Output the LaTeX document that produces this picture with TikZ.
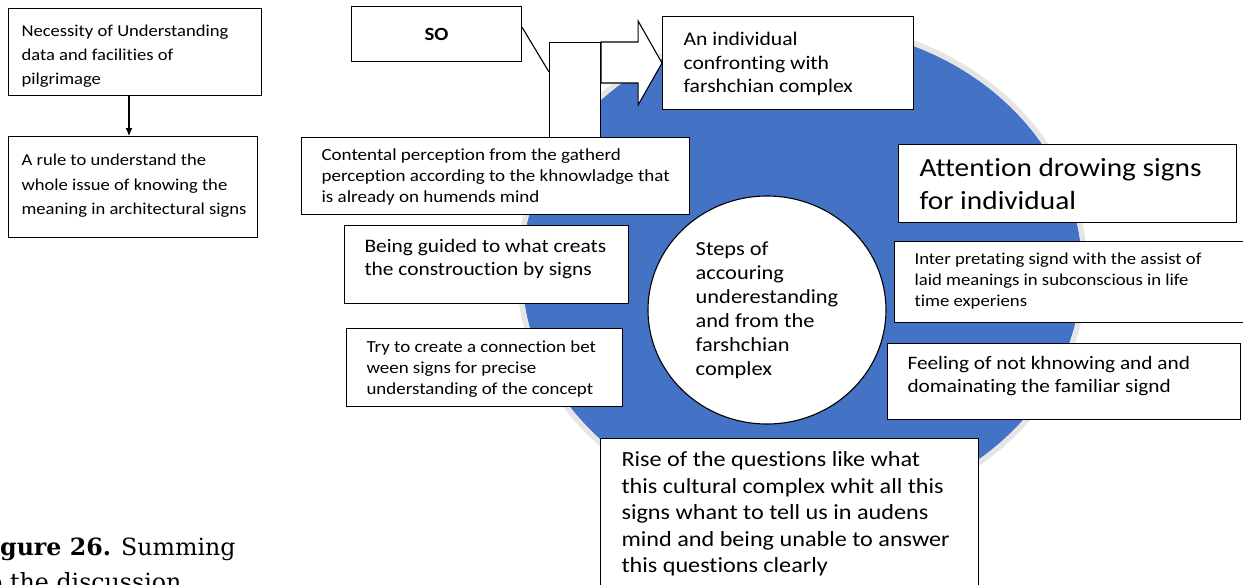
\documentclass[tikz,border=0pt]{standalone}
\usepackage{fontspec}
\setmainfont{Carlito}
\newfontfamily\calfont{Carlito}[FakeStretch=1.12, Ligatures=NoCommon]
\newfontfamily\capfont{DejaVu Serif}
\usetikzlibrary{shapes.geometric,arrows.meta,calc}
\definecolor{ablue}{HTML}{4472C4}
% #1 width, #2 height, #3 left pad, #4 first baseline, #5 size, #6 skip, #7 text
\newcommand\bt[7]{\begin{minipage}[t][#2pt][t]{#1pt}\fontsize{#5pt}{#6pt}\selectfont\hspace*{#3pt}\parbox[t]{\dimexpr#1pt-#3pt\relax}{\raggedright\rule{0pt}{#4pt}#7}\end{minipage}}
\tikzset{
  box/.style={draw=black, line width=1.1pt, fill=white, inner sep=0pt, anchor=north west, font=\calfont},
  conn/.style={draw=black, line width=1.1pt},
}
\begin{document}
\begin{tikzpicture}[x=1pt,y=-1pt]
\useasboundingbox (0,0) rectangle (1243,584);
\clip (0,0) rectangle (1243,584);

% big blue disc with light ring
\draw[line width=5pt, black!10] (802,270) ellipse [x radius=283pt, y radius=247pt];
\fill[ablue] (802,270) ellipse [x radius=280pt, y radius=244pt];

% left column
\node[box] (b1) at (8,8) {\bt{253}{87}{13}{28}{16.6}{24}{Necessity of Understanding\\data and facilities of\\pilgrimage}};
\node[box] (b2) at (8,136) {\bt{249}{101}{13}{29}{16.6}{24.5}{A rule to understand the\\whole issue of knowing the\\meaning in architectural signs}};
\coordinate (ax) at (129,0);
\draw[conn, -{Latex[length=8pt,width=7pt]}] (b1.south -| ax) -- (b2.north -| ax);

% SO box, stem and block arrow
\node[box, minimum width=170pt, minimum height=55pt, font=\calfont\bfseries\fontsize{18.6}{20}\selectfont] (so) at (351,6) {SO};
\node[box, minimum width=51pt, minimum height=103pt] (stem) at (549,42) {};
\node[box] (ind) at (662,16) {\bt{251}{93}{21}{29}{19.3}{23.5}{An individual\\confronting with\\farshchian complex}};
\draw[conn, fill=white] (stem.north east) -- ++(37,0) coordinate (ah1) -- ++(0,-21) -- (ind.west) -- ($(ah1)+(0,63)$) -- ++(0,-22) -- ($(stem.north east)+(0,41)$) -- cycle;
\draw[conn] ($(so.north east)!0.38!(so.south east)$) -- ($(stem.north west)+(0,30)$);

% boxes around the circle
\node[box] (cont) at (301,137) {\bt{388}{77}{20}{23}{17}{21}{Contental perception from the gatherd\\perception according to the khnowladge that\\is already on humends mind}};
\node[box] (guid) at (344,225) {\bt{284}{78}{20}{27}{19.1}{23}{Being guided to what creats\\the constrouction by signs}};
\node[box] (try) at (346,328) {\bt{276}{78}{20}{24}{16.9}{21}{Try to create a connection bet\\ween signs for precise\\understanding of the concept}};
\node[box] (att) at (898,144) {\bt{338}{78}{21}{32}{26.2}{33}{Attention drowing signs\\for individual}};
\node[box] (inter) at (894,241) {\bt{349}{81}{20}{23.3}{16.7}{21}{Inter pretating signd with the assist of\\laid meanings in subconscious in life\\time experiens}};
\node[box] (feel) at (887,343) {\bt{353}{76}{20}{26}{19}{23}{Feeling of not khnowing and and\\domainating the familiar signd}};
\node[box] (rise) at (600,438) {\bt{378}{160}{21}{28.4}{21.6}{26.5}{Rise of the questions like what\\this cultural complex whit all this\\signs whant to tell us in audens\\mind and being unable to answer\\this questions clearly}};

% central circle
\node[draw=black, line width=1.1pt, fill=white, ellipse, inner sep=0pt, minimum width=238pt, minimum height=228pt, align=left, font=\calfont\fontsize{20}{24}\selectfont] (steps) at (767,310) {Steps of\\accouring\\underestanding\\and from the\\farshchian\\complex};

% caption
\node[anchor=base west, inner sep=0pt, font=\capfont\fontsize{23.7}{28}\selectfont] (cap1) at (0,555) {\textbf{gure 26.} Summing};
\node[anchor=base west, inner sep=0pt, font=\capfont\fontsize{23.7}{28}\selectfont] (cap2) at (-28,590) {up the discussion};
\end{tikzpicture}
\end{document}
